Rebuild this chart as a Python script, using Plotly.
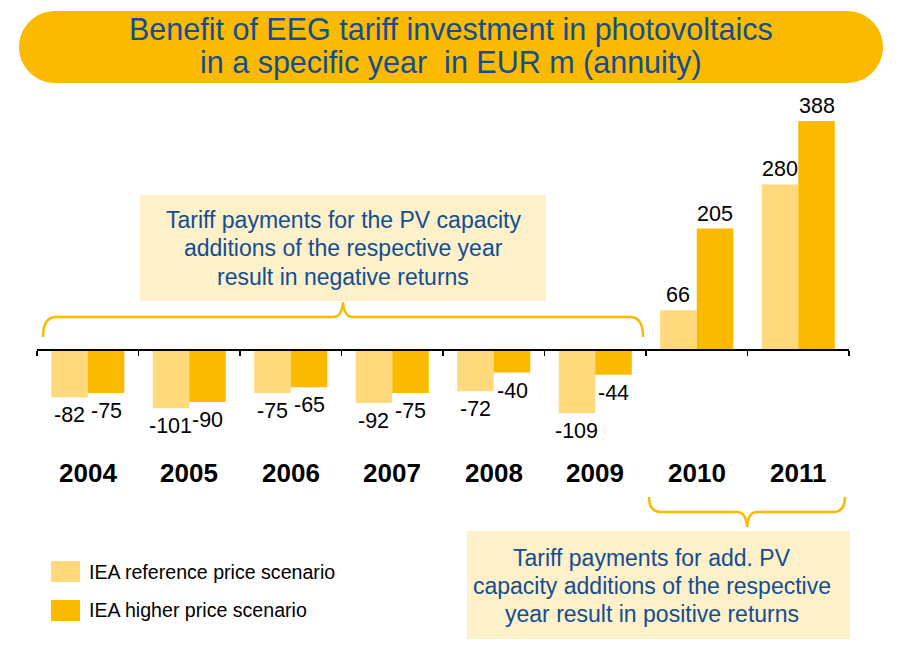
import plotly.graph_objects as go

years = ["2004", "2005", "2006", "2007", "2008", "2009", "2010", "2011"]
ref_values = [-82, -101, -75, -92, -72, -109, 66, 280]
high_values = [-75, -90, -65, -75, -40, -44, 205, 388]
series_names = ["IEA reference price scenario", "IEA higher price scenario"]
title_lines = ["Benefit of EEG tariff investment in photovoltaics",
               "in a specific year  in EUR m (annuity)"]
note_negative = ["Tariff payments for the PV capacity",
                 "additions of the respective year",
                 "result in negative returns"]
note_positive = ["Tariff payments for add. PV",
                 "capacity additions of the respective",
                 "year result in positive returns"]

C_LIGHT = "#FFD97B"
C_DARK = "#FBBA00"
C_BOX = "#FEF0C9"
C_BLUE = "#124E92"
FONT = "Liberation Sans, Arial, sans-serif"

W, H = 900, 660
L, R, T, B = 37, 51, 100, 220
PW, PH = W - L - R, H - T - B
ZERO_PX = 349
SCALE = 0.5876  # px per unit
y_top = (ZERO_PX - T) / SCALE
y_bot = -((T + PH) - ZERO_PX) / SCALE


def px(x):
    return (x - L) / PW


def py(y):
    return (T + PH - y) / PH


def P(x, y):
    return f"{px(x):.5f},{py(y):.5f}"


xs = list(range(len(years)))
fig = go.Figure()
fig.add_trace(go.Bar(x=xs, y=ref_values, name=series_names[0],
                     marker_color=C_LIGHT, marker_line_width=0, showlegend=False))
fig.add_trace(go.Bar(x=xs, y=high_values, name=series_names[1],
                     marker_color=C_DARK, marker_line_width=0, showlegend=False))

annotations = []
off = 0.18
for i, (a, b) in enumerate(zip(ref_values, high_values)):
    for xv, v in ((i - off, a), (i + off, b)):
        annotations.append(dict(
            x=xv, y=v, xref="x", yref="y", text=str(v), showarrow=False,
            yanchor="bottom" if v >= 0 else "top",
            yshift=1 if v >= 0 else -4,
            font=dict(family=FONT, size=21.5, color="#000000")))
    annotations.append(dict(
        x=i, y=py(473), xref="x", yref="paper", text=f"<b>{years[i]}</b>",
        showarrow=False, yanchor="middle",
        font=dict(family=FONT, size=26, color="#000000")))

# title
for j, (line, ypx) in enumerate(zip(title_lines, [29, 63])):
    annotations.append(dict(
        x=px(451), y=py(ypx), xref="paper", yref="paper", text=line,
        showarrow=False, yanchor="middle", xanchor="center",
        font=dict(family=FONT, size=30.5, color=C_BLUE)))

# note boxes text
for lines, cx, ys in ((note_negative, 343, [220, 248, 277]),
                      (note_positive, 652, [558, 586, 614])):
    for line, ypx in zip(lines, ys):
        annotations.append(dict(
            x=px(cx), y=py(ypx), xref="paper", yref="paper", text=line,
            showarrow=False, yanchor="middle", xanchor="center",
            font=dict(family=FONT, size=23, color=C_BLUE)))

# legend text
for name, ypx in zip(series_names, [572, 610]):
    annotations.append(dict(
        x=px(87), y=py(ypx), xref="paper", yref="paper", text=name,
        showarrow=False, yanchor="middle", xanchor="left",
        font=dict(family=FONT, size=19.6, color="#000000")))

shapes = []
# title pill
x0, x1, y0, y1 = 19, 883, 11, 83
r = 36
k = 0.55
pill = (f"M {P(x0 + r, y0)} L {P(x1 - r, y0)} "
        f"C {P(x1 - r + r * k, y0)} {P(x1, y0 + r - r * k)} {P(x1, y0 + r)} "
        f"C {P(x1, y1 - r + r * k)} {P(x1 - r + r * k, y1)} {P(x1 - r, y1)} "
        f"L {P(x0 + r, y1)} "
        f"C {P(x0 + r - r * k, y1)} {P(x0, y1 - r + r * k)} {P(x0, y1 - r)} "
        f"C {P(x0, y0 + r - r * k)} {P(x0 + r - r * k, y0)} {P(x0 + r, y0)} Z")
shapes.append(dict(type="path", xref="paper", yref="paper", path=pill,
                   fillcolor=C_DARK, line=dict(width=0), layer="below"))

# note boxes
shapes.append(dict(type="rect", xref="paper", yref="paper",
                   x0=px(140), x1=px(546), y0=py(195), y1=py(301),
                   fillcolor=C_BOX, line=dict(width=0), layer="below"))
shapes.append(dict(type="rect", xref="paper", yref="paper",
                   x0=px(467), x1=px(850), y0=py(531), y1=py(639),
                   fillcolor=C_BOX, line=dict(width=0), layer="below"))

# brackets
br1 = (f"M {P(43, 337)} Q {P(43, 317)} {P(56, 317)} L {P(333, 317)} "
       f"Q {P(342, 317)} {P(343, 302)} Q {P(344, 317)} {P(353, 317)} "
       f"L {P(630, 317)} Q {P(643, 317)} {P(643, 337)}")
br2 = (f"M {P(649, 497)} Q {P(649, 512)} {P(661, 512)} L {P(737, 512)} "
       f"Q {P(746, 512)} {P(747, 527)} Q {P(748, 512)} {P(757, 512)} "
       f"L {P(833, 512)} Q {P(845, 512)} {P(845, 497)}")
for pth in (br1, br2):
    shapes.append(dict(type="path", xref="paper", yref="paper", path=pth,
                       line=dict(color=C_DARK, width=2.5)))

# legend swatches
for col, (ya, yb) in zip([C_LIGHT, C_DARK], [(561, 582), (600, 621)]):
    shapes.append(dict(type="rect", xref="paper", yref="paper",
                       x0=px(51), x1=px(80), y0=py(ya), y1=py(yb),
                       fillcolor=col, line=dict(width=0)))

fig.update_layout(
    width=W, height=H,
    margin=dict(l=L, r=R, t=T, b=B),
    paper_bgcolor="white", plot_bgcolor="rgba(0,0,0,0)",
    barmode="group", bargap=0.28, bargroupgap=0,
    showlegend=False, hovermode=False,
    xaxis=dict(range=[-0.5, len(years) - 0.5], anchor="free",
               position=py(ZERO_PX), showline=True, linecolor="#000000",
               linewidth=1.5, ticks="outside", tickcolor="#000000",
               ticklen=5, tickwidth=1.2,
               tickmode="array", tickvals=[i - 0.5 for i in range(len(years) + 1)],
               showticklabels=False, showgrid=False, zeroline=False),
    yaxis=dict(range=[y_bot, y_top], visible=False, showgrid=False,
               zeroline=False),
    annotations=annotations, shapes=shapes,
)

fig.write_html("out.html",
               config={"displayModeBar": False, "staticPlot": True},
               post_script="document.body.style.margin='0';"
                           "document.body.style.overflow='hidden';")
